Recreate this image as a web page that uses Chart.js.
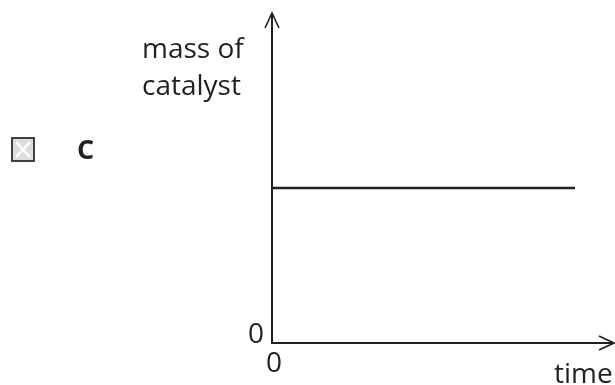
<!DOCTYPE html>
<html>
<head>
<meta charset="utf-8">
<script src="https://cdn.jsdelivr.net/npm/chart.js@4/dist/chart.umd.min.js"></script>
<style>
  html, body { margin: 0; padding: 0; background: #fff; }
  #wrap { width: 615px; height: 385px; position: relative; }
</style>
</head>
<body>
<div id="wrap"><canvas id="chart"></canvas></div>
<script>
// graph values (arbitrary units)
const times = [0, 8.86];
const massOfCatalyst = [4.7, 4.7];
const xTicks = [0];
const yTicks = [0];
const yLabelLines = ['mass of', 'catalyst'];
const xLabel = 'time';
const optionLetter = 'C';

const ink = '#231f20';
const FONT = '"Open Sans", "DejaVu Sans", sans-serif';

// axes with open arrowheads, axis titles and the answer box
const sketchPlugin = {
  id: 'sketch',
  afterDraw(chart) {
    const { ctx, chartArea: a } = chart;
    ctx.save();
    ctx.strokeStyle = ink;
    ctx.lineWidth = 2;
    ctx.lineCap = 'butt';
    ctx.beginPath();
    ctx.moveTo(a.left, a.top);
    ctx.lineTo(a.left, a.bottom);
    ctx.lineTo(a.right, a.bottom);
    ctx.stroke();
    // arrowheads
    ctx.lineWidth = 1.6;
    ctx.beginPath();
    ctx.moveTo(a.left - 7, a.top + 15);
    ctx.lineTo(a.left, a.top);
    ctx.lineTo(a.left + 7, a.top + 15);
    ctx.moveTo(a.right - 15, a.bottom - 7);
    ctx.lineTo(a.right, a.bottom);
    ctx.lineTo(a.right - 15, a.bottom + 7);
    ctx.stroke();

    ctx.fillStyle = ink;
    ctx.font = '28px ' + FONT;
    ctx.textAlign = 'left';
    ctx.textBaseline = 'alphabetic';
    ctx.fillText(yLabelLines[0], 142, 58);
    ctx.fillText(yLabelLines[1], 142, 95);
    ctx.fillText(xLabel, 554, 383);

    ctx.font = 'bold 27px ' + FONT;
    ctx.fillText(optionLetter, 77, 159);

    // crossed box
    ctx.fillStyle = '#dcddde';
    ctx.fillRect(12, 138, 22, 23);
    ctx.strokeStyle = '#2e2e2e';
    ctx.lineWidth = 1.8;
    ctx.strokeRect(12, 138, 22, 23);
    ctx.strokeStyle = '#ffffff';
    ctx.lineWidth = 2.5;
    ctx.beginPath();
    ctx.moveTo(16, 142); ctx.lineTo(30, 157);
    ctx.moveTo(30, 142); ctx.lineTo(16, 157);
    ctx.stroke();
    ctx.restore();
  }
};

new Chart(document.getElementById('chart'), {
  type: 'line',
  data: {
    datasets: [{
      data: times.map((t, i) => ({ x: t, y: massOfCatalyst[i] })),
      borderColor: ink,
      borderWidth: 2.5,
      pointRadius: 0,
      tension: 0
    }]
  },
  options: {
    responsive: true,
    maintainAspectRatio: false,
    animation: false,
    layout: { padding: { left: 0, right: 1, top: 13, bottom: 0 } },
    plugins: { legend: { display: false }, tooltip: { enabled: false } },
    scales: {
      x: {
        type: 'linear',
        min: 0,
        max: 10,
        afterFit: s => { s.height = 42; s.paddingLeft = 0; s.paddingRight = 0; },
        afterBuildTicks: s => { s.ticks = xTicks.map(v => ({ value: v })); },
        grid: { display: false, drawTicks: false },
        border: { display: false },
        ticks: { color: ink, padding: 4, labelOffset: 2, font: { family: FONT, size: 28 } }
      },
      y: {
        min: 0,
        max: 10,
        afterFit: s => { s.width = 272; s.paddingTop = 0; s.paddingBottom = 0; },
        afterBuildTicks: s => { s.ticks = yTicks.map(v => ({ value: v })); },
        grid: { display: false, drawTicks: false },
        border: { display: false },
        ticks: { color: ink, padding: 8, labelOffset: -8, font: { family: FONT, size: 28 } }
      }
    }
  },
  plugins: [sketchPlugin]
});
</script>
</body>
</html>
